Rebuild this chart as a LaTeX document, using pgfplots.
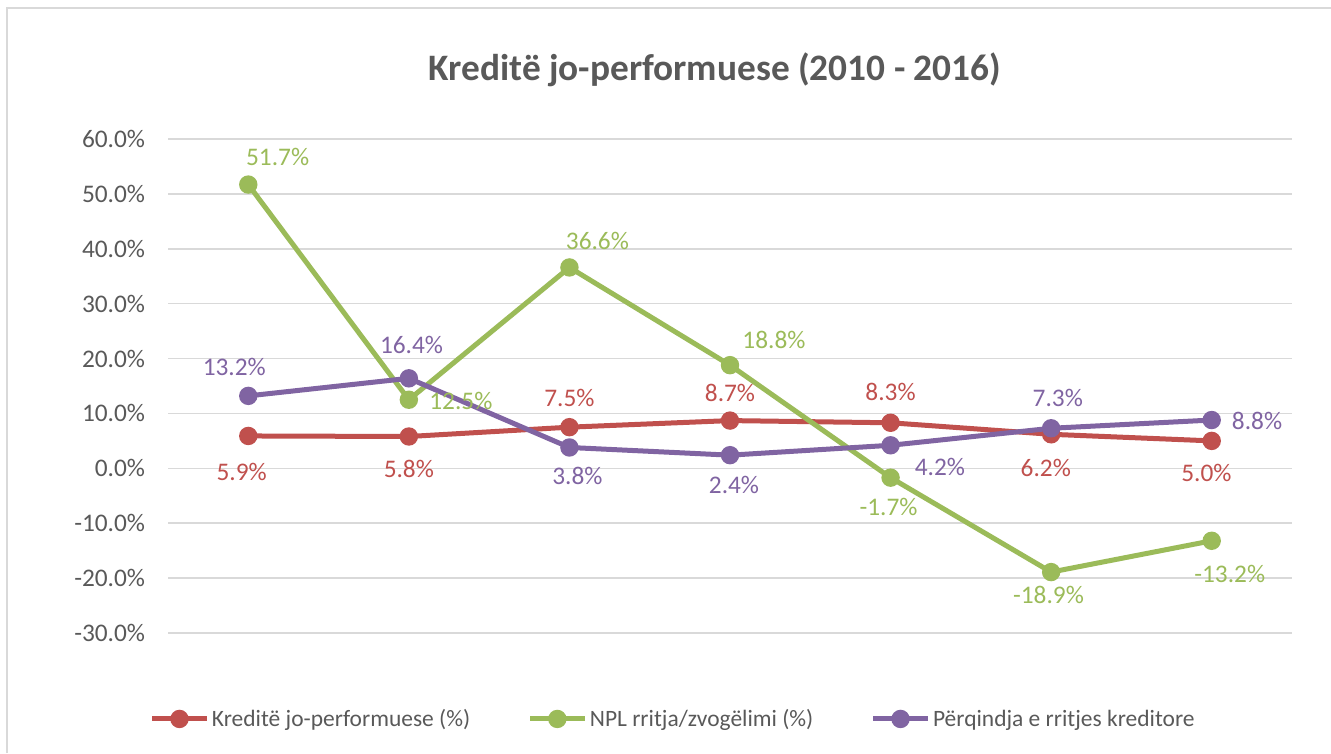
\documentclass[border=0pt]{standalone}
\usepackage{fontspec}
\setmainfont{Carlito}
\usepackage{pgfplots}
\pgfplotsset{compat=1.18}
\usepackage{pgfplotstable}

\definecolor{npred}{RGB}{192,80,77}
\definecolor{npgreen}{RGB}{155,187,89}
\definecolor{nppurple}{RGB}{128,100,162}
\definecolor{txtgray}{RGB}{89,89,89}
\definecolor{gridgray}{RGB}{217,217,217}

% x, value, label shift (pt)
\pgfplotstableread{
x y dx dy
1 5.9 -5 -27
2 5.8 0 -24
3 7.5 0 22
4 8.7 0 21
5 8.3 0 23
6 6.2 -4 -25
7 5.0 -4 -24
}\kredite
\pgfplotstableread{
x y dx dy
1 51.7 22 21
2 12.5 39 -1
3 36.6 21 20
4 18.8 33 19
5 -1.7 -1.5 -22
6 -18.9 -2 -17
7 -13.2 13.5 -25
}\npl
\pgfplotstableread{
x y dx dy
1 13.2 -10.5 22
2 16.4 2 25
3 3.8 6 -21
4 2.4 3 -22
5 4.2 37 -16
6 7.3 5 22.5
7 8.8 34 -1
}\perqindja

\newcommand{\lblfont}{\fontsize{19}{23}\selectfont}
\newcommand{\legfont}{\fontsize{17.6}{21}\selectfont}

\begin{document}
\begin{tikzpicture}
\path[use as bounding box] (0,0) rectangle (998.25pt,564.75pt);
% chart frame (only left and top visible)
\draw[gridgray,line width=1.5pt] (5.25pt,0) -- (5.25pt,558.75pt) -- (998.25pt,558.75pt);

\node[font=\fontsize{28}{32}\selectfont\bfseries,text=txtgray] at (536.25pt,512.25pt)
  {Kreditë jo-performuese (2010 - 2016)};

\begin{axis}[
    at={(126pt,90pt)}, anchor=south west,
    scale only axis, width=843pt, height=370.5pt,
    xmin=0.5, xmax=7.5, ymin=-30, ymax=60,
    axis line style={draw=none},
    xtick=\empty,
    ytick={-30,-20,...,60},
    ymajorgrids,
    major grid style={gridgray,line width=1.1pt},
    major tick length=0pt,
    ytick style={draw=none},
    /pgf/number format/assume math mode=true,
    yticklabel={\pgfmathprintnumber[fixed,fixed zerofill,precision=1]{\tick}\%},
    yticklabel style={font=\lblfont,text=txtgray,anchor=east,inner sep=0pt,xshift=-17pt},
    every axis plot/.append style={line width=3.75pt,mark=*,mark size=5pt},
    point meta=y,
    nodes near coords={\pgfmathprintnumber[fixed,fixed zerofill,precision=1,assume math mode=true]{\pgfplotspointmeta}\%},
    visualization depends on={\thisrow{dx} \as \dx},
    visualization depends on={\thisrow{dy} \as \dy},
    nodes near coords style={font=\lblfont,anchor=center,inner sep=0pt,xshift=\dx pt,yshift=\dy pt},
    legend columns=3,
    legend style={at={(0.4497,-0.174)},anchor=center,draw=none,fill=none,
      font=\legfont,text=txtgray,
      /tikz/every even column/.append style={column sep=41pt},
      nodes={inner sep=2pt}},
    legend image code/.code={
      \draw[#1,mark repeat=2,mark phase=2] plot coordinates {(0pt,0pt)(20.5pt,0pt)(41pt,0pt)};},
  ]
  \addplot[npred,nodes near coords style={text=npred}] table[x=x,y=y] {\kredite};
  \addlegendentry{Kreditë jo-performuese (\%)}
  \addplot[npgreen,nodes near coords style={text=npgreen}] table[x=x,y=y] {\npl};
  \addlegendentry{NPL rritja/zvogëlimi (\%)}
  \addplot[nppurple,nodes near coords style={text=nppurple}] table[x=x,y=y] {\perqindja};
  \addlegendentry{Përqindja e rritjes kreditore}
\end{axis}
\end{tikzpicture}
\end{document}
